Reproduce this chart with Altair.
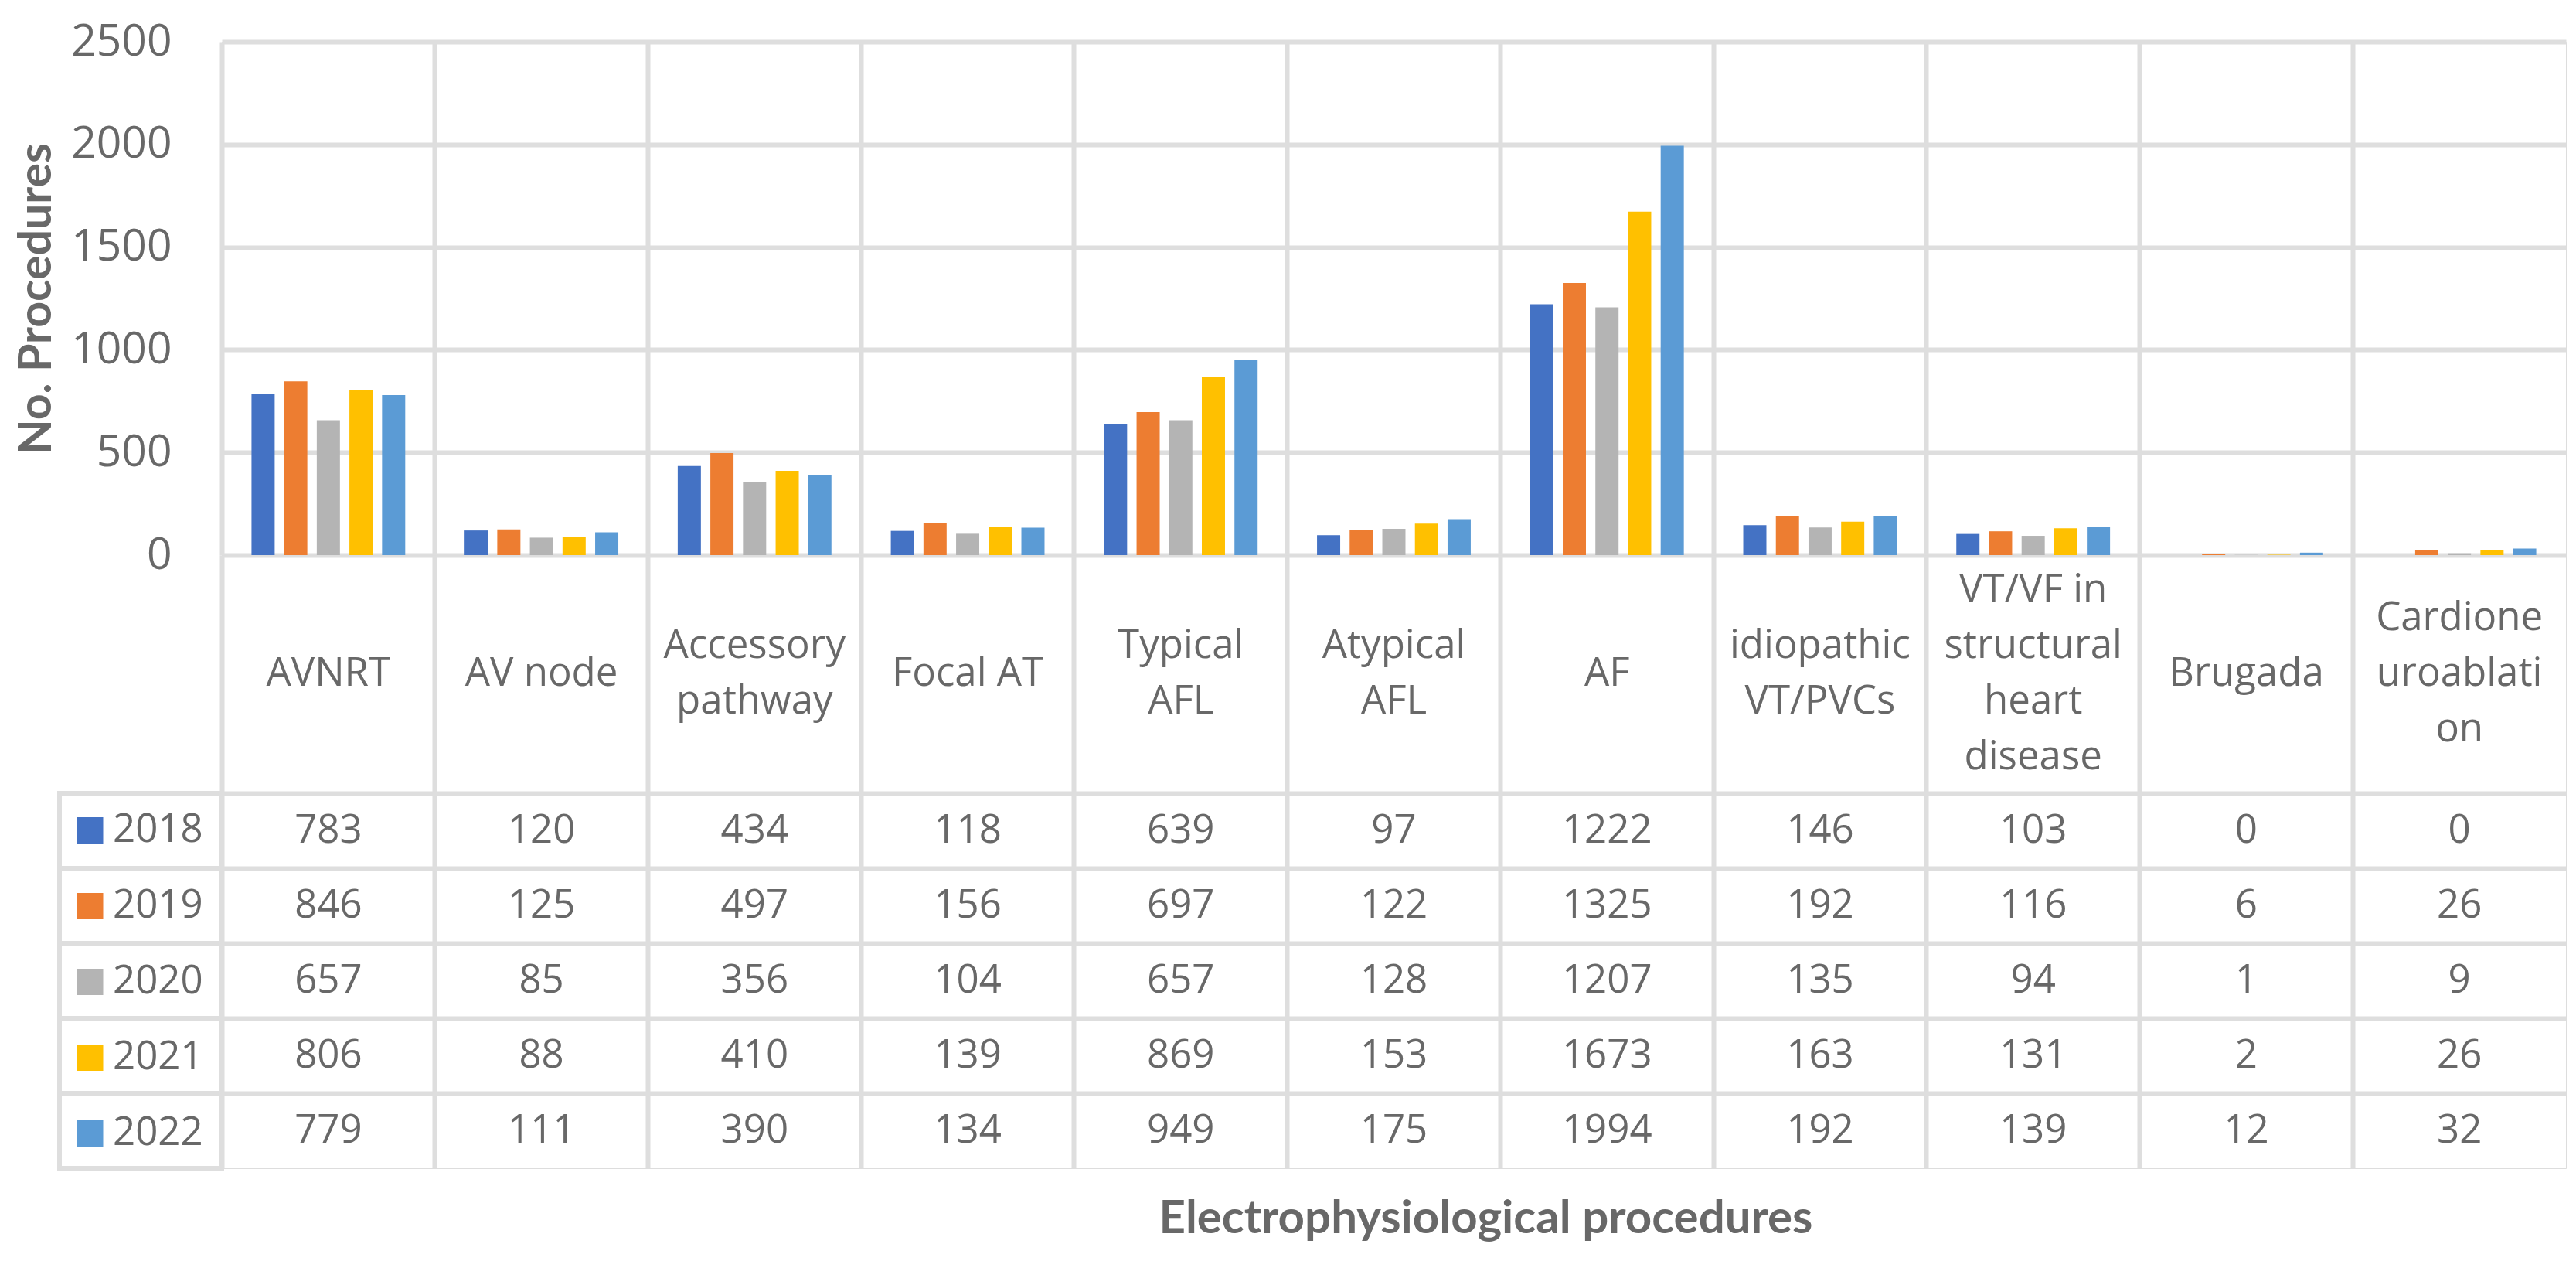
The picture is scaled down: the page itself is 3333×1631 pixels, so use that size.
import altair as alt
import pandas as pd

# ---------------- data ----------------
categories = ["AVNRT", "AV node", "Accessory pathway", "Focal AT", "Typical AFL",
              "Atypical AFL", "AF", "idiopathic VT/PVCs",
              "VT/VF in structural heart disease", "Brugada", "Cardioneuroablation"]
category_labels = ["AVNRT", "AV node", "Accessory|pathway", "Focal AT", "Typical|AFL",
                   "Atypical|AFL", "AF", "idiopathic|VT/PVCs",
                   "VT/VF in|structural|heart|disease", "Brugada", "Cardione|uroablati|on"]
years = ["2018", "2019", "2020", "2021", "2022"]
v2018 = [783, 120, 434, 118, 639, 97, 1222, 146, 103, 0, 0]
v2019 = [846, 125, 497, 156, 697, 122, 1325, 192, 116, 6, 26]
v2020 = [657, 85, 356, 104, 657, 128, 1207, 135, 94, 1, 9]
v2021 = [806, 88, 410, 139, 869, 153, 1673, 163, 131, 2, 26]
v2022 = [779, 111, 390, 134, 949, 175, 1994, 192, 139, 12, 32]
colors = ["#4472C4", "#ED7D31", "#B4B4B4", "#FFC000", "#5B9BD5"]
y_ticks = [0, 500, 1000, 1500, 2000, 2500]

series = [v2018, v2019, v2020, v2021, v2022]
rows = []
for yr, vals in zip(years, series):
    for c, v in zip(categories, vals):
        rows.append({"category": c, "year": yr, "value": v})
df = pd.DataFrame(rows)

label_rows = []
for c, lab in zip(categories, category_labels):
    parts = lab.split("|")
    n = len(parts)
    for i, p in enumerate(parts):
        label_rows.append({"category": c, "line": p, "pos": i - (n - 1) / 2})
cat_df = pd.DataFrame(label_rows)
leg_df = pd.DataFrame({"col": ["legend"] * len(years), "year": years})

# ---------------- style ----------------
W = 3033
H = 664
LABEL_H = 308
LINE_H = 72
ROW_H = 97
TXT = "#686868"
GRID = "#DEDEDE"
GW = 6
FONT = "Open Sans"
TFONT = "Lato"

x_scale = alt.Scale(type="band", domain=categories, paddingInner=0, paddingOuter=0)
color_scale = alt.Scale(domain=years, range=colors)
y_rows = alt.Y("year:N", scale=alt.Scale(type="band", domain=years, paddingInner=0, paddingOuter=0),
               axis=alt.Axis(labels=False, ticks=False, domain=False, title=None, grid=True,
                             bandPosition=0, gridColor=GRID, gridWidth=GW, minExtent=0))

def cat_x(**axis_kw):
    base = dict(labels=False, ticks=False, domain=False, grid=True, bandPosition=0,
                gridColor=GRID, gridWidth=GW, minExtent=0)
    base.update(axis_kw)
    if "title" not in base:
        base["title"] = None
    return alt.X("category:N", scale=x_scale, sort=categories, axis=alt.Axis(**base))

# ---------------- bar chart ----------------
bars = alt.Chart(df).mark_bar().encode(
    x=cat_x(),
    xOffset=alt.XOffset("year:N", sort=years,
                        scale=alt.Scale(domain=years, paddingInner=0.29, paddingOuter=0.91)),
    y=alt.Y("value:Q", scale=alt.Scale(domain=[0, 2500], nice=False),
            axis=alt.Axis(values=y_ticks, format="d", title="No. Procedures", titleFont=TFONT,
                          titleFontSize=59, titleFontWeight="bold", titleColor=TXT,
                          titlePadding=14, labelFont=FONT, labelFontSize=57, labelColor=TXT,
                          labelPadding=65, ticks=False, domain=False, grid=True,
                          gridColor=GRID, gridWidth=GW)),
    color=alt.Color("year:N", scale=color_scale, legend=None),
).properties(width=W, height=H)

# ---------------- category label row ----------------
half = LABEL_H / 2 / LINE_H
label_row = alt.Chart(cat_df).mark_text(
    font=FONT, fontSize=51, color=TXT, baseline="middle"
).encode(
    x=cat_x(),
    y=alt.Y("pos:Q", scale=alt.Scale(domain=[-half, half], reverse=True, nice=False, zero=False),
            axis=None),
    text="line:N",
).properties(width=W, height=LABEL_H)

# ---------------- data table ----------------
num_text = alt.Chart(df).mark_text(font=FONT, fontSize=51, color=TXT, baseline="middle").encode(
    x=cat_x(title="Electrophysiological procedures", titleFont=TFONT, titleFontSize=60,
            titleFontWeight="bold", titleColor=TXT, titlePadding=36, titleX=1635),
    y=y_rows,
    text="value:Q",
)

leg_x = alt.X("col:N", scale=alt.Scale(type="band", domain=["legend"], range=[-210, 0],
                                       paddingInner=0, paddingOuter=0), axis=None)
leg_rect = alt.Chart(leg_df).mark_rect(fill="white", stroke=GRID, strokeWidth=GW).encode(
    x=leg_x, y=y_rows)
leg_key = alt.Chart(leg_df).mark_square(opacity=0).encode(
    x=leg_x, y=y_rows,
    color=alt.Color("year:N", scale=color_scale, legend=alt.Legend(
        orient="none", legendX=-196, legendY=22.5, direction="vertical", title=None,
        symbolType="square", symbolSize=34 * 34, symbolStrokeWidth=0, symbolOpacity=1,
        labelFont=FONT, labelFontSize=51, labelColor=TXT, labelOffset=4,
        rowPadding=ROW_H - 51, padding=0, labelLimit=400)))
legend_col = alt.layer(leg_rect, leg_key)

table = alt.layer(num_text, legend_col).resolve_scale(x="independent").properties(
    width=W, height=ROW_H * len(years))

chart = alt.vconcat(bars, label_row, table, spacing=0, bounds="flush").resolve_scale(
    color="independent"
).properties(
    padding={"left": 10, "top": 16, "right": 0, "bottom": 6}
).configure_view(stroke=GRID, strokeWidth=GW).configure(background="white")

chart.save("out.html", embed_options={"renderer": "svg", "actions": False})
